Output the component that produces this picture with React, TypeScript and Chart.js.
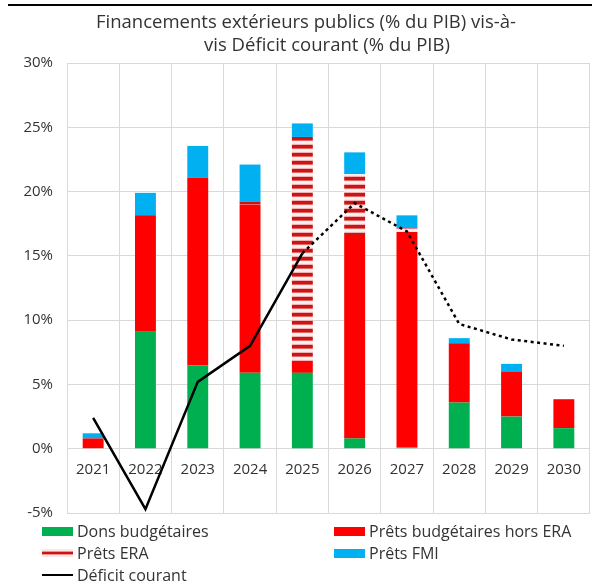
import React, { useEffect, useRef } from 'react';
import { Chart, registerables } from 'chart.js';
Chart.register(...registerables);

const years = ['2021', '2022', '2023', '2024', '2025', '2026', '2027', '2028', '2029', '2030'];
const dons = [0, 9.1, 6.5, 5.9, 5.9, 0.8, 0.1, 3.6, 2.5, 1.6];
const pretsHorsEra = [0.8, 9.05, 14.6, 13.05, 0.85, 15.75, 16.75, 4.6, 3.5, 2.25];
const pretsEra = [0, 0, 0, 0.25, 17.5, 4.8, 0.3, 0, 0, 0];
const pretsFmi = [0.4, 1.75, 2.45, 2.9, 1.05, 1.7, 1.0, 0.4, 0.6, 0];
const deficit = [2.4, -4.7, 5.2, 8.0, 15.2, 19.1, 16.9, 9.7, 8.5, 8.0];
const yTicks = [-5, 0, 5, 10, 15, 20, 25, 30];

const FONT = '"Open Sans", sans-serif';
const TEXT = '#333333';

function makeStripePattern(): CanvasPattern | string {
  const c = document.createElement('canvas');
  c.width = 8;
  c.height = 8;
  const g = c.getContext('2d');
  if (!g) return '#cc1414';
  const rows = ['#f2b0b0', '#cc1414', '#cc1414', '#cc1414', '#e46a6a', '#fde6e6', '#fff4f4', '#fde6e6'];
  rows.forEach((col, i) => {
    g.fillStyle = col;
    g.fillRect(0, i, 8, 1);
  });
  return g.createPattern(c, 'repeat') || '#cc1414';
}

const legendItems = [
  { label: 'Dons budgétaires', kind: 'green', x: 42, y: 531 },
  { label: 'Prêts budgétaires hors ERA', kind: 'red', x: 334, y: 531 },
  { label: 'Prêts ERA', kind: 'era', x: 42, y: 553 },
  { label: 'Prêts FMI', kind: 'blue', x: 334, y: 553 },
  { label: 'Déficit courant', kind: 'line', x: 42, y: 575 },
];

function LegendSwatch({ kind }: { kind: string }) {
  const base: React.CSSProperties = { position: 'absolute', left: 0, width: 31 };
  if (kind === 'line') return <div style={{ ...base, top: -1, height: 2, background: '#000' }} />;
  if (kind === 'era')
    return (
      <div
        style={{
          ...base,
          top: -4,
          height: 8,
          background: 'linear-gradient(#fde6e6 0 20%, #f09090 20% 35%, #cc1414 35% 65%, #f09090 65% 80%, #fde6e6 80%)',
        }}
      />
    );
  const col = kind === 'green' ? '#00B050' : kind === 'red' ? '#FF0000' : '#00B0F0';
  return <div style={{ ...base, top: -4, height: 9, background: col }} />;
}

export default function App() {
  const ref = useRef<HTMLCanvasElement | null>(null);
  useEffect(() => {
    if (!ref.current) return;
    const pattern = makeStripePattern();
    const chart = new Chart(ref.current, {
      type: 'bar',
      data: {
        labels: years,
        datasets: [
          {
            type: 'line',
            label: 'Déficit courant',
            data: deficit,
            borderColor: '#000000',
            backgroundColor: '#000000',
            borderWidth: 2.5,
            pointRadius: 0,
            fill: false,
            tension: 0,
            stack: 'line',
            order: 0,
            borderCapStyle: 'butt',
            segment: {
              borderDash: (ctx: any) => (ctx.p0DataIndex >= 4 ? [3, 3.5] : undefined),
            },
          } as any,
          { label: 'Dons budgétaires', data: dons, backgroundColor: '#00B050', stack: 's', order: 1 },
          { label: 'Prêts budgétaires hors ERA', data: pretsHorsEra, backgroundColor: '#FF0000', stack: 's', order: 1 },
          { label: 'Prêts ERA', data: pretsEra, backgroundColor: pattern as any, stack: 's', order: 1 },
          { label: 'Prêts FMI', data: pretsFmi, backgroundColor: '#00B0F0', stack: 's', order: 1 },
        ],
      },
      options: {
        responsive: false,
        animation: false,
        devicePixelRatio: 1,
        datasets: { bar: { barPercentage: 0.4, categoryPercentage: 1 } },
        layout: { padding: { left: 0, right: 7, top: 63, bottom: 70 } },
        plugins: { legend: { display: false }, title: { display: false }, tooltip: { enabled: false } },
        scales: {
          x: {
            stacked: true,
            position: { y: 0 } as any,
            grid: { color: '#d9d9d9', lineWidth: 1, offset: true, drawTicks: false },
            border: { display: false },
            ticks: { font: { family: FONT, size: 15 }, color: TEXT, padding: 12, autoSkip: false, maxRotation: 0 },
          },
          y: {
            stacked: true,
            min: -5,
            max: 30,
            afterBuildTicks: (s: any) => {
              s.ticks = yTicks.map((v) => ({ value: v }));
            },
            afterFit: (s: any) => {
              s.width = 67;
            },
            grid: { color: '#d9d9d9', lineWidth: 1, drawTicks: false },
            border: { display: false },
            ticks: {
              font: { family: FONT, size: 15 },
              color: TEXT,
              padding: 14,
              callback: (v: any) => v + '%',
            },
          },
        },
      },
    });
    return () => chart.destroy();
  }, []);

  return (
    <div style={{ position: 'absolute', left: 0, top: 0, width: 597, height: 583, overflow: 'hidden', background: '#fff', fontFamily: FONT, color: TEXT }}>
      <canvas ref={ref} width={597} height={583} style={{ position: 'absolute', left: 0, top: 0, width: 597, height: 583 }} />
      <div style={{ position: 'absolute', left: 8, top: 4, width: 584, height: 2, background: '#000' }} />
      <div style={{ position: 'absolute', left: 26, top: 9, width: 560, textAlign: 'center', fontSize: 18.5, lineHeight: '23px', whiteSpace: 'nowrap' }}>
        Financements extérieurs publics (% du PIB) vis-à-
      </div>
      <div style={{ position: 'absolute', left: 47, top: 32, width: 560, textAlign: 'center', fontSize: 18.5, lineHeight: '23px', whiteSpace: 'nowrap' }}>
        vis Déficit courant (% du PIB)
      </div>
      {legendItems.map((it) => (
        <div key={it.label} style={{ position: 'absolute', left: it.x, top: it.y, height: 0 }}>
          <LegendSwatch kind={it.kind} />
          <div style={{ position: 'absolute', left: 35, top: -11, fontSize: 16, lineHeight: '22px', whiteSpace: 'nowrap' }}>{it.label}</div>
        </div>
      ))}
    </div>
  );
}
